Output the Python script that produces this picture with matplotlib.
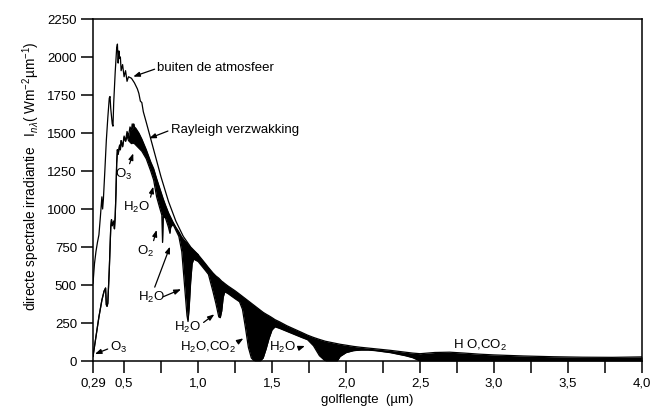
import numpy as np
import matplotlib
matplotlib.use('Agg')
import matplotlib.pyplot as plt

plt.rcParams['font.family'] = ['Liberation Sans', 'DejaVu Sans']
plt.rcParams['mathtext.fontset'] = 'custom'
plt.rcParams['mathtext.rm'] = 'Liberation Sans'
plt.rcParams['mathtext.it'] = 'Liberation Sans:italic'
plt.rcParams['mathtext.sf'] = 'Liberation Sans'

# ---- data: extraterrestrial spectrum (buiten de atmosfeer) ----
wl_et = [0.29, 0.30, 0.31, 0.32, 0.33, 0.34, 0.35, 0.355, 0.36, 0.37, 0.38, 0.39,
         0.40, 0.405, 0.41, 0.42, 0.425, 0.43, 0.44, 0.45, 0.455, 0.46, 0.465, 0.47,
         0.475, 0.48, 0.49, 0.50, 0.51, 0.52, 0.53, 0.55, 0.57, 0.59, 0.60, 0.61,
         0.62, 0.63, 0.65, 0.70, 0.75, 0.80, 0.85, 0.90, 0.95, 1.0]
irr_et = [510, 640, 720, 780, 830, 950, 1080, 1000, 1060, 1250, 1450, 1600,
          1730, 1740, 1660, 1560, 1545, 1700, 1900, 2060, 2085, 1960, 2040, 1990,
          2000, 1910, 1950, 1870, 1910, 1840, 1870, 1860, 1830, 1790, 1760, 1710,
          1700, 1640, 1570, 1390, 1210, 1050, 920, 820, 750, 700]

# ---- data: surface spectra (Rayleigh attenuated and direct) ----
wl_sfc = [0.29, 0.31, 0.33, 0.35, 0.365, 0.375, 0.38, 0.385, 0.39, 0.40, 0.41, 0.415,
          0.42, 0.43, 0.435, 0.44, 0.445, 0.45, 0.455, 0.46, 0.47, 0.475, 0.48, 0.49,
          0.50, 0.51, 0.52, 0.53, 0.54, 0.55, 0.555, 0.56, 0.565, 0.57, 0.58, 0.60,
          0.62, 0.65, 0.68, 0.70, 0.72, 0.74, 0.755, 0.76, 0.765, 0.78, 0.80, 0.81,
          0.815, 0.83, 0.85, 0.87, 0.89, 0.91, 0.925, 0.932, 0.94, 0.95, 0.96, 0.97,
          1.0, 1.05, 1.07, 1.10, 1.12, 1.14, 1.15, 1.16, 1.17, 1.18, 1.20, 1.25,
          1.28, 1.30, 1.32, 1.34, 1.36, 1.38, 1.40, 1.42, 1.44, 1.46, 1.48, 1.50,
          1.52, 1.55, 1.60, 1.65, 1.70, 1.74, 1.78, 1.82, 1.86, 1.90, 1.94, 1.96,
          2.0, 2.05, 2.1, 2.15, 2.2, 2.3, 2.4, 2.45, 2.5, 2.55, 2.6, 2.7,
          2.8, 2.9, 3.0, 3.2, 3.4, 3.6, 3.8, 4.0]
irr_rayleigh = [30, 160, 290, 400, 460, 480, 370, 360, 380, 600, 880, 930,
                890, 920, 870, 950, 1100, 1300, 1390, 1360, 1420, 1390, 1450, 1410,
                1480, 1450, 1510, 1480, 1540, 1520, 1560, 1530, 1560, 1540, 1530, 1500,
                1460, 1390, 1310, 1265, 1200, 1140, 1095, 1080, 1065, 1025, 975, 955,
                945, 915, 880, 850, 815, 790, 775, 765, 760, 745, 735, 725,
                700, 640, 615, 580, 560, 545, 535, 525, 518, 510, 495, 462,
                440, 425, 410, 395, 380, 365, 350, 335, 320, 308, 297, 285,
                272, 258, 232, 210, 188, 170, 155, 142, 130, 122, 114, 110,
                104, 96, 90, 85, 80, 70, 58, 52, 48, 52, 56, 58,
                52, 45, 40, 33, 28, 25, 24, 27]
irr_direct = [30, 160, 290, 400, 460, 480, 370, 360, 380, 600, 880, 930,
              890, 920, 870, 950, 1100, 1300, 1390, 1360, 1420, 1390, 1450, 1410,
              1470, 1445, 1480, 1450, 1440, 1430, 1440, 1430, 1440, 1430, 1420, 1400,
              1380, 1330, 1250, 1190, 1080, 1010, 960, 780, 950, 940, 880, 840,
              880, 900, 860, 820, 720, 480, 300, 260, 350, 520, 640, 670,
              655, 595, 570, 460, 380, 290, 285, 330, 420, 455, 445, 410,
              390, 340, 220, 90, 20, 0, 0, 0, 20, 80, 150, 205,
              225, 215, 195, 175, 155, 140, 100, 35, 0, 0, 0, 30,
              55, 68, 72, 72, 68, 55, 35, 22, 0, 0, 0, 0,
              0, 0, 0, 0, 0, 0, 0, 0]

xtick_major = [0.29, 0.5, 1.0, 1.5, 2.0, 2.5, 3.0, 3.5, 4.0]
xtick_labels = ['0,29', '0,5', '1,0', '1,5', '2,0', '2,5', '3,0', '3,5', '4,0']
xtick_minor = [0.75, 1.25, 1.75, 2.25, 2.75, 3.25, 3.75]
yticks = [0, 250, 500, 750, 1000, 1250, 1500, 1750, 2000, 2250]

fig = plt.figure(figsize=(6.5, 4.08), dpi=100)
ax = fig.add_axes([93/650, 1 - 361/408, (642 - 93)/650, (361 - 19)/408])

ax.fill_between(wl_sfc, irr_direct, irr_rayleigh, color='black', lw=0)
ax.plot(wl_sfc, irr_rayleigh, color='black', lw=0.9)
ax.plot(wl_sfc, irr_direct, color='black', lw=0.9)
ax.plot(wl_et, irr_et, color='black', lw=0.9)

ax.set_xlim(0.29, 4.0)
ax.set_ylim(0, 2250)
ax.set_xticks(xtick_major, xtick_labels)
ax.set_xticks(xtick_minor, minor=True)
ax.set_yticks(yticks, [str(v) for v in yticks])
ax.tick_params(which='both', direction='out', length=8.5, width=1.1,
               labelsize=9.5, colors='black')
ax.tick_params(axis='y', pad=3)
ax.tick_params(axis='x', pad=3.5)
for s in ax.spines.values():
    s.set_linewidth(1.1)

ax.set_xlabel('golflengte  (µm)', fontsize=9.5, labelpad=3)
fig.text(31/650, 1 - 176/408,
         r'directe spectrale irradiantie   I$_{n\lambda}$( Wm$^{-2}$µm$^{-1}$)',
         rotation=90, ha='center', va='center', fontsize=9.8)

arw = dict(arrowstyle='-|>,head_length=0.4,head_width=0.15', color='black',
           lw=0.9, shrinkA=0, shrinkB=0)
fs = 9.5

def note(txt, xy_text, xy_tip=None, ha='center', relpos=(0.5, 0.5)):
    if xy_tip is None:
        ax.text(*xy_text, txt, ha=ha, va='center', fontsize=fs)
    else:
        a = dict(arw)
        a['relpos'] = relpos
        ax.annotate(txt, xy=xy_tip, xytext=xy_text, ha=ha, va='center',
                    fontsize=fs, arrowprops=a)

def arrow_only(xy_from, xy_tip):
    ax.annotate('', xy=xy_tip, xytext=xy_from, arrowprops=dict(arw))

note('buiten de atmosfeer', (0.725, 1926), (0.562, 1871), ha='left', relpos=(0, 0.5))
note('Rayleigh verzwakking', (0.815, 1520), (0.670, 1465), ha='left', relpos=(0, 0.5))
note(r'O$_3$', (0.496, 1230), (0.562, 1366), relpos=(0.8, 1.0))
note(r'H$_2$O', (0.581, 1010), (0.697, 1147), relpos=(1.0, 0.9))
note(r'O$_2$', (0.648, 724), (0.720, 862), relpos=(0.9, 1.0))
note(r'H$_2$O', (0.682, 418), (0.810, 752), relpos=(0.6, 1.0))
arrow_only((0.765, 423), (0.885, 472))
note(r'H$_2$O', (0.928, 220), (1.110, 307), relpos=(1.0, 0.7))
note(r'H$_2$O,CO$_2$', (1.07, 89), (1.306, 149), relpos=(1.0, 0.8))
note(r'H$_2$O', (1.57, 92), (1.722, 99), relpos=(0.75, 0.2))
note(r'H O,CO$_2$', (2.905, 105))
note(r'O$_3$', (0.466, 86), (0.303, 46), relpos=(0.0, 0.5))

fig.savefig('out.png', dpi=100)
